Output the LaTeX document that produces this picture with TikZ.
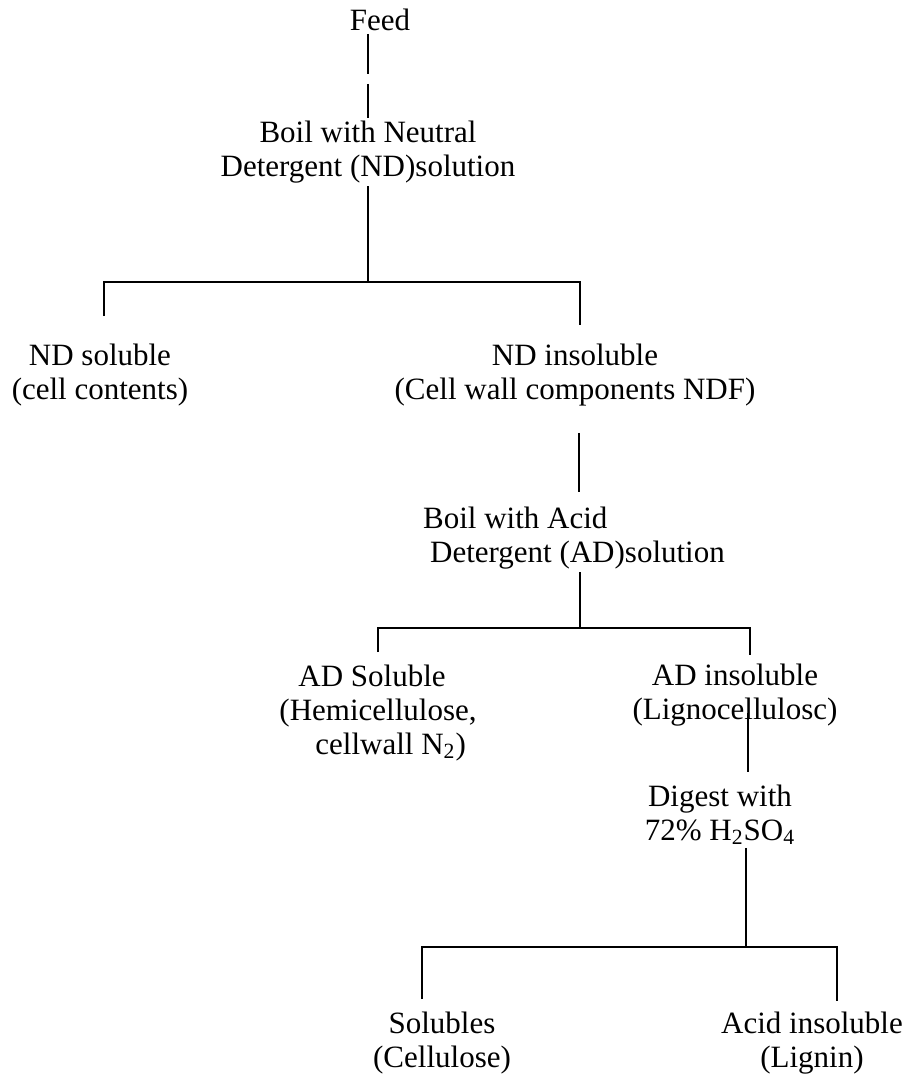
\documentclass[tikz,border=0pt]{standalone}
\usepackage{fontspec}
\setmainfont{Liberation Serif}
\usetikzlibrary{positioning}

\begin{document}
\begin{tikzpicture}[x=0.5pt, y=-0.5pt, line width=0.9pt,
  every node/.style={font=\fontsize{15.5}{17}\selectfont, inner sep=1pt},
  stage/.style={align=center},
  stageleft/.style={align=left}]
  \useasboundingbox (0,0) rectangle (914,1081);
  % stages of the fibre analysis
  \node[stage] (feed) at (380,20) {Feed};
  \node[stage] (boilnd) at (368,152) {Boil with Neutral\\Detergent (ND)solution};
  \node[stage] (ndsol) at (100,375) {ND soluble\\(cell contents)};
  \node[stage] (ndins) at (575,375) {ND insoluble\\(Cell wall components NDF)};
  \node[stageleft] (boilad) at (574,538)
    {Boil with Acid\\\hspace*{3.5pt}Detergent (AD)solution};
  \node[stageleft] (adsol) at (378,713)
    {\hspace*{9.5pt}AD Soluble\\(Hemicellulose,\\\hspace*{18pt}cellwall N\textsubscript{2})};
  \node[stage] (adins) at (735,695) {AD insoluble\\(Lignocellulosc)};
  \node[stage] (digest) at (720,815) {Digest with\\72\% H\textsubscript{2}SO\textsubscript{4}};
  \node[stage] (solub) at (442,1043) {Solubles\\(Cellulose)};
  \node[stage] (acidins) at (812,1043) {Acid insoluble\\(Lignin)};
  % split points
  \coordinate (ndsplit) at (368,282);
  \coordinate (adsplit) at (580,628);
  \coordinate (adstem) at (748,713);
  \coordinate (h2split) at (746,947);
  % connectors
  \draw[dash pattern=on 20pt off 5pt] (boilnd.north |- feed.south) -- (boilnd.north);
  \draw (boilnd.south -| ndsplit) -- (ndsplit);
  \draw ([xshift=2pt,yshift=12.5pt]ndsol.north) |- (ndsplit)
    -| ([xshift=2.5pt,yshift=8pt]ndins.north);
  \draw[shorten <=12pt, shorten >=6pt] ([xshift=2pt]ndins.south)
    -- ([xshift=2pt]ndins.south |- boilad.north);
  \draw (boilad.south -| adsplit) -- (adsplit);
  \draw ([yshift=5pt]adsol.north) |- (adsplit)
    -| ([xshift=7.5pt,yshift=3pt]adins.north);
  \draw[shorten >=5pt] (adstem) -- (adstem |- digest.north);
  \draw (digest.south -| h2split) -- (h2split);
  \draw ([xshift=-10pt,yshift=5pt]solub.north) |- (h2split)
    -| ([xshift=12.5pt,yshift=4pt]acidins.north);
\end{tikzpicture}
\end{document}
